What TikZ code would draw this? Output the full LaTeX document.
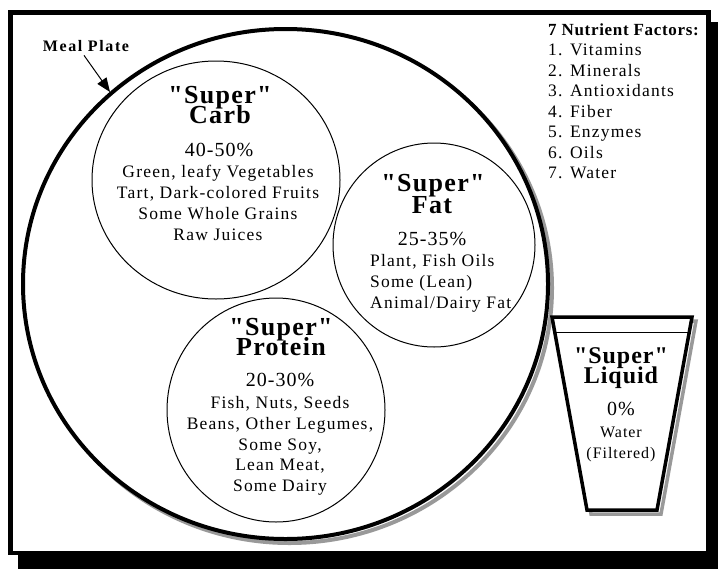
\documentclass[tikz,border=0pt]{standalone}
\usepackage{fontspec}
\setmainfont{Liberation Serif}[Ligatures=TeXOff]
\usetikzlibrary{arrows.meta,calc,shapes.geometric}
\tikzset{
  ttl/.style={font=\fontsize{26}{26}\bfseries\selectfont\addfontfeatures{LetterSpace=5}, anchor=base, inner sep=0pt},
  ttlcup/.style={font=\fontsize{24}{24}\bfseries\selectfont\addfontfeatures{LetterSpace=4}, anchor=base, inner sep=0pt},
  pct/.style={font=\fontsize{20}{20}\selectfont\addfontfeatures{LetterSpace=5}, anchor=base, inner sep=0pt},
  bodytxt/.style={font=\fontsize{17.5}{17.5}\selectfont\addfontfeatures{LetterSpace=7}, anchor=base, inner sep=0pt},
  bodycup/.style={font=\fontsize{16}{16}\selectfont\addfontfeatures{LetterSpace=6}, anchor=base, inner sep=0pt},
  bodyleft/.style={font=\fontsize{17.5}{17.5}\selectfont\addfontfeatures{LetterSpace=7}, anchor=base west, inner sep=0pt},
  listhead/.style={font=\fontsize{17}{17}\bfseries\selectfont\addfontfeatures{LetterSpace=4}, anchor=base west, inner sep=0pt},
  ring/.style={draw, line width=1pt},
  shadowgrey/.style={draw=black!40, line width=4pt},
}
\begin{document}
\begin{tikzpicture}[x=1pt,y=-1pt]
\useasboundingbox (0,0) rectangle (719,570);
% frame with shadow
\fill[black] (18,22) rectangle (718,569);
\draw[line width=4.5pt, fill=white] (10.5,12.5) rectangle (708.5,553);
% plate
\draw[shadowgrey] (289.5,288) ellipse [x radius=262.5, y radius=255];
\draw[line width=4pt, fill=white] (285.5,284) ellipse [x radius=262.5, y radius=255];
\node[inner sep=0pt, minimum width=525pt, minimum height=510pt] (plate) at (285.5,284) {};
% food circles
\node[ring, ellipse, minimum width=248pt, minimum height=238pt, inner sep=0pt] (carb) at (216,180) {};
\node[ring, ellipse, minimum width=202pt, minimum height=204pt, inner sep=0pt] (fat) at (434,245) {};
\node[ring, ellipse, minimum width=218pt, minimum height=224pt, inner sep=0pt] (protein) at (276,410) {};
% carb text
\node[ttl] (c1) at (220,103) {"Super"};
\node[ttl] (c2) at (220,123.3) {Carb};
\node[pct] (c3) at (219,156) {40-50\%};
\node[bodytxt] (c4) at (218,177.7) {Green, leafy Vegetables};
\node[bodytxt] (c5) at (218,198.3) {Tart, Dark-colored Fruits};
\node[bodytxt] (c6) at (218,219) {Some Whole Grains};
\node[bodytxt] (c7) at (218,240) {Raw Juices};
% fat text
\node[ttl] (f1) at (433,191.7) {"Super"};
\node[ttl] (f2) at (432,213.3) {Fat};
\node[pct] (f3) at (432,245) {25-35\%};
\node[bodyleft] (f4) at (370,266.7) {Plant, Fish Oils};
\node[bodyleft] (f5) at (370,287.3) {Some (Lean)};
\node[bodyleft] (f6) at (370,308.3) {Animal/Dairy Fat};
% protein text
\node[ttl] (p1) at (281,335) {"Super"};
\node[ttl] (p2) at (281,355) {Protein};
\node[pct] (p3) at (280,386.7) {20-30\%};
\node[bodytxt] (p4) at (280,408.3) {Fish, Nuts, Seeds};
\node[bodytxt] (p5) at (280,429) {Beans, Other Legumes,};
\node[bodytxt] (p6) at (280,450) {Some Soy,};
\node[bodytxt] (p7) at (280,470.7) {Lean Meat,};
\node[bodytxt] (p8) at (280,491.7) {Some Dairy};
% cup
\draw[shadowgrey, line width=3.5pt] (556,321) -- (696,321) -- (661,514) -- (591,514) -- cycle;
\draw[line width=3.5pt, fill=white] (552,317) -- (692,317) -- (657,510) -- (587,510) -- cycle;
\coordinate (rimL) at (554.7,332);
\coordinate (rimR) at (689.3,332);
\draw[line width=1pt] (rimL) -- (rimR);
\node[ttlcup] (q1) at (621,363.3) {"Super"};
\node[ttlcup] (q2) at (621,383.3) {Liquid};
\node[pct] (q3) at (621,415) {0\%};
\node[bodycup] (q4) at (621,437.7) {Water};
\node[bodycup] (q5) at (621,458.3) {(Filtered)};
% nutrient list
\node[listhead] (n0) at (548,35) {7 Nutrient Factors:};
\node[bodyleft] (n1) at (548,55.5) {1. Vitamins};
\node[bodyleft] (n2) at (548,76) {2. Minerals};
\node[bodyleft] (n3) at (548,96.5) {3. Antioxidants};
\node[bodyleft] (n4) at (548,117) {4. Fiber};
\node[bodyleft] (n5) at (548,137.5) {5. Enzymes};
\node[bodyleft] (n6) at (548,158) {6. Oils};
\node[bodyleft] (n7) at (548,178.5) {7. Water};
% meal plate label
\node[font=\fontsize{16}{16}\bfseries\selectfont\addfontfeatures{LetterSpace=10}, anchor=base, inner sep=0pt] (mp) at (86,51) {Meal Plate};
\coordinate (mptip) at (110,92);
\draw[line width=1pt, -{Triangle[length=14pt,width=11pt]}] ($(mp.south)+(-2,4)$) -- (mptip);
\end{tikzpicture}
\end{document}
